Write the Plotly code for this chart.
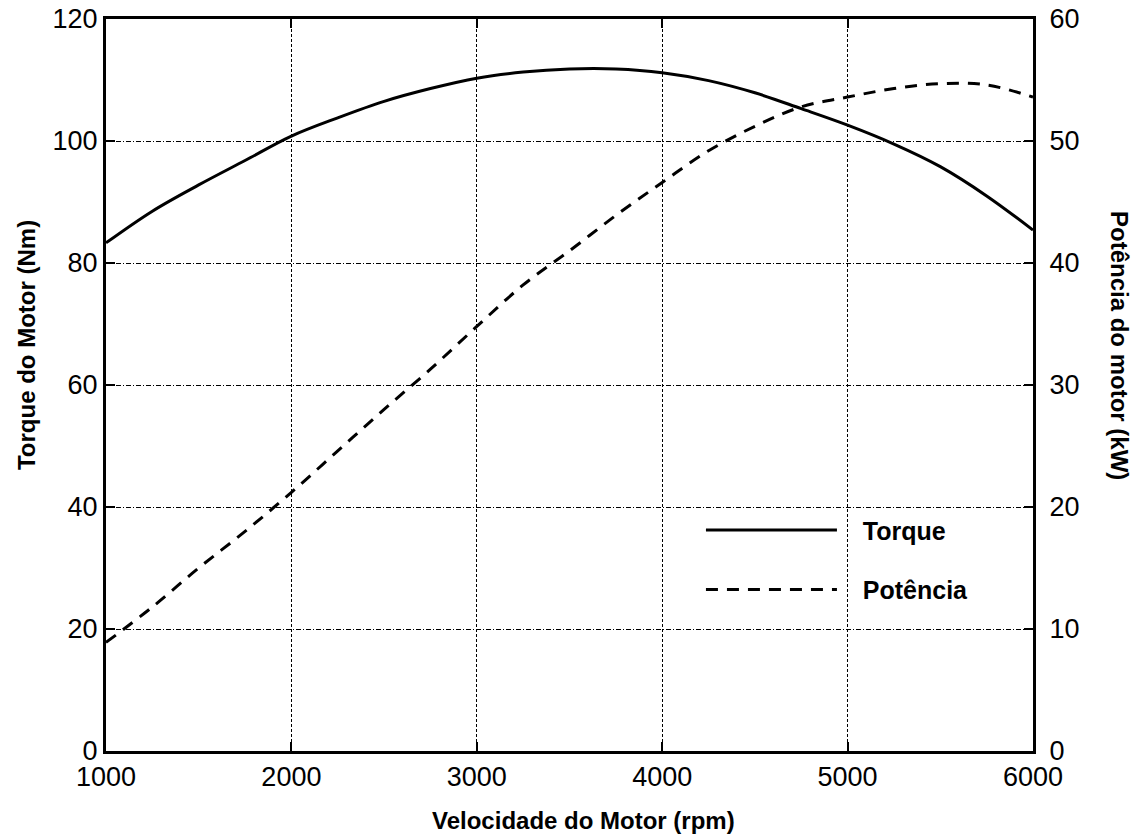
import plotly.graph_objects as go

# Motor speed samples (rpm)
rpm = [1000, 1250, 1500, 1750, 2000, 2250, 2500, 2750, 3000, 3250, 3500,
       3750, 4000, 4250, 4500, 4750, 5000, 5250, 5500, 5750, 6000]

# Motor torque (Nm)
torque_nm = [83.3, 88.5, 92.8, 96.8, 100.8, 103.8, 106.5, 108.6, 110.3, 111.3, 111.8,
             111.8, 111.2, 109.9, 107.9, 105.3, 102.6, 99.5, 95.8, 91.0, 85.4]

# Motor power (kW)
power_kw = [8.9, 11.8, 15.0, 18.0, 21.2, 24.6, 28.0, 31.3, 34.8, 38.2, 41.0,
            43.9, 46.6, 49.2, 51.2, 52.8, 53.6, 54.3, 54.7, 54.6, 53.6]

x_ticks = [1000, 2000, 3000, 4000, 5000, 6000]
torque_ticks = [0, 20, 40, 60, 80, 100, 120]
power_ticks = [0, 10, 20, 30, 40, 50, 60]

FONT_FAMILY = "Liberation Sans, Arial, sans-serif"
TICK_FONT = dict(family=FONT_FAMILY, size=27, color="black")
TITLE_FONT = dict(family=FONT_FAMILY, size=24, color="black")

NBSP = "\u00a0"

fig = go.Figure()
fig.add_trace(go.Scatter(
    x=rpm, y=torque_nm, name=NBSP * 3 + "<b>Torque</b>", mode="lines", line_shape="spline",
    line=dict(color="black", width=3), yaxis="y", legendgroup="t",
))
fig.add_trace(go.Scatter(
    x=rpm, y=power_kw, name=NBSP * 3 + "<b>Potência</b>", mode="lines", line_shape="spline",
    line=dict(color="black", width=3, dash="12px,9px"), yaxis="y2", legendgroup="p",
))

axis_common = dict(
    showline=True, linecolor="black", linewidth=3,
    ticks="inside", ticklen=9, tickwidth=2, tickcolor="black",
    tickfont=TICK_FONT, zeroline=False, automargin=False,
)

fig.update_layout(
    width=1132, height=837,
    margin=dict(l=106, r=99, t=19, b=86),
    paper_bgcolor="white", plot_bgcolor="white",
    showlegend=True,
    legend=dict(
        x=0.6418, y=0.333, xanchor="left", yanchor="top",
        bgcolor="rgba(0,0,0,0)", borderwidth=0,
        font=dict(family=FONT_FAMILY, size=25, color="black"),
        itemwidth=131, tracegroupgap=24, traceorder="grouped",
    ),
    xaxis=dict(
        range=[1000, 6000], tickvals=x_ticks, ticktext=[str(v) for v in x_ticks],
        mirror="ticks", showgrid=True, gridcolor="black", gridwidth=1,
        griddash="3px,2px", **axis_common,
    ),
    yaxis=dict(
        range=[0, 120], tickvals=torque_ticks, ticktext=[str(v) for v in torque_ticks],
        mirror=True, showgrid=True, gridcolor="black", gridwidth=1,
        griddash="5px,2px,1px,2px", ticklabelstandoff=0, **axis_common,
    ),
    yaxis2=dict(
        range=[0, 60], tickvals=power_ticks, ticktext=[str(v) for v in power_ticks],
        overlaying="y", side="right", showgrid=False, ticklabelstandoff=8,
        **axis_common,
    ),
    annotations=[
        dict(text="<b>Velocidade do Motor (rpm)</b>", xref="paper", yref="paper",
             x=0.5146, y=-0.0956, showarrow=False, font=TITLE_FONT,
             xanchor="center", yanchor="middle"),
        dict(text="<b>Torque do Motor (Nm)</b>", xref="paper", yref="paper",
             x=-0.0863, y=0.5546, showarrow=False, font=TITLE_FONT, textangle=-90,
             xanchor="center", yanchor="middle"),
        dict(text="<b>Potência do motor (kW)</b>", xref="paper", yref="paper",
             x=1.0939, y=0.5546, showarrow=False, font=TITLE_FONT, textangle=90,
             xanchor="center", yanchor="middle"),
    ],
)

fig.write_html("out.html")
